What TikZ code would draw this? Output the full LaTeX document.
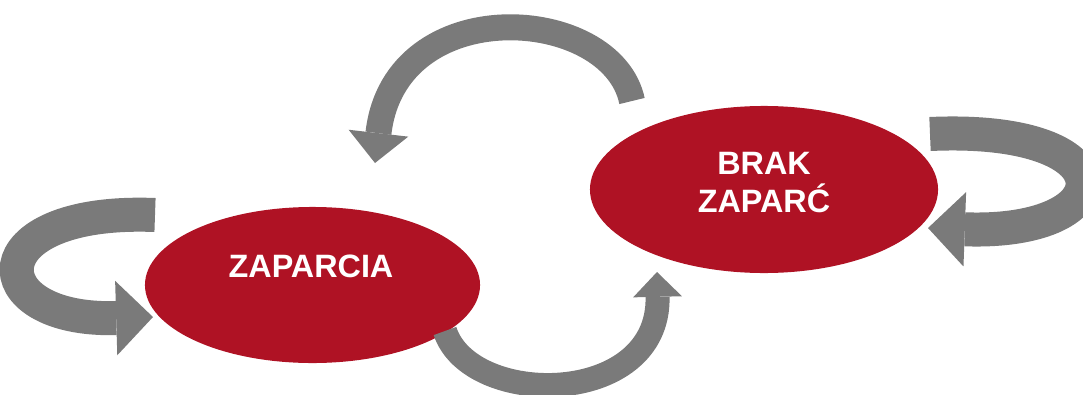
\documentclass[tikz,border=0pt]{standalone}
\usepackage{fontspec}
\setmainfont{Liberation Sans}
\usepackage{xcolor}
\usetikzlibrary{arrows.meta,shapes.geometric,calc}
\definecolor{stanred}{RGB}{175,18,36}
\definecolor{bandgray}{RGB}{122,122,122}
\tikzset{
  % state ellipses
  stan/.style={ellipse,fill=stanred,draw=none,inner sep=0pt},
  stantext/.style={text=white,font=\fontsize{23}{27}\selectfont\bfseries,align=center},
  % gray band arrows
  toparrow/.style={draw=bandgray,line width=0.65cm,
    -{Triangle[length=0.75cm,width=1.5cm,line width=0pt]}},
  botarrow/.style={draw=bandgray,line width=0.6cm,
    -{Triangle[length=0.62cm,width=1.22cm,line width=0pt]}},
  looparrow/.style={draw=bandgray,line width=0.85cm,
    -{Triangle[length=0.92cm,width=1.86cm,line width=0pt]}},
}

\begin{document}
\begin{tikzpicture}[x=0.025cm,y=-0.025cm]
\clip (0,0) rectangle (1083,394);

%% ---- states ----
\node[stan,minimum width=8.375cm,minimum height=3.9cm] (zap) at (312.5,285) {};
\node[stan,minimum width=8.7cm,minimum height=4.175cm] (brak) at (764,189.5) {};
\node[stantext] (zapt) at ($(zap)+(-1.5,-19)$) {ZAPARCIA};
\node[stantext] (brakt) at ($(brak)+(0,-7)$) {BRAK\\ZAPARĆ};

%% ---- arrow ends ----
\coordinate (topS) at ($(brak)+(-132,-88.5)$);
\coordinate (topE) at ($(zap)+(62.5,-122)$);
\coordinate (botS) at ($(zap)+(132.5,46)$);
\coordinate (botE) at ($(brak)+(-107,82.5)$);
\coordinate (zapS) at ($(zap)+(-157.5,-70)$);
\coordinate (zapE) at ($(zap)+(-159.5,32)$);
\coordinate (brakS) at ($(brak)+(166,-55.5)$);
\coordinate (brakE) at ($(brak)+(164,38.5)$);

%% ---- transitions ----
\draw[toparrow] (topS) .. controls +(-20,-96) and +(20,-173) .. (topE);
\draw[botarrow] (botS) .. controls +(25,77) and +(3,136) .. (botE);

%% ---- self loops ----
\draw[looparrow] (zapS) .. controls +(-180,-7) and +(-173,5) .. (zapE);
\draw[looparrow] (brakS) .. controls +(200,-9) and +(197,7) .. (brakE);
\end{tikzpicture}
\end{document}
